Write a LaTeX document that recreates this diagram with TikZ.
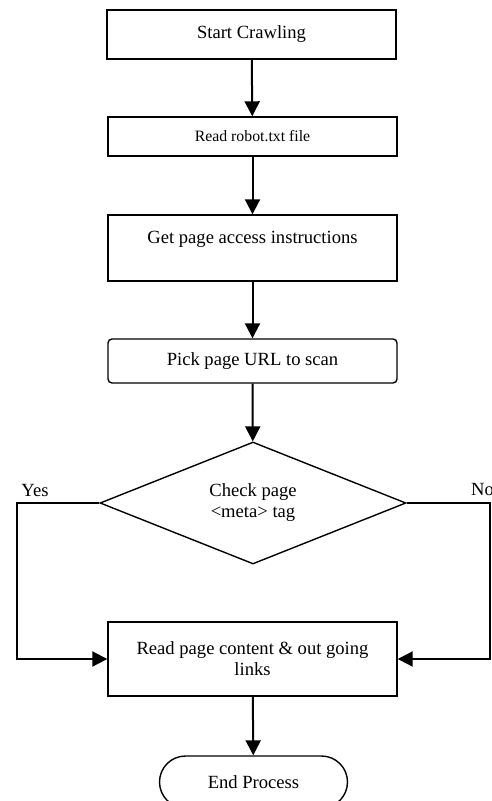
\documentclass[tikz,border=0pt]{standalone}
\usepackage{fontspec}
\setmainfont{Liberation Serif}
\usetikzlibrary{arrows.meta, shapes.geometric, positioning}

\begin{document}
\begin{tikzpicture}[x=1pt, y=-1pt, font=\fontsize{18.6}{21}\selectfont,
	proc/.style={draw, line width=1.4pt, minimum width=289pt, inner sep=0pt,
		align=center, fill=white},
	decis/.style={draw, diamond, line width=1.4pt, minimum width=306pt,
		minimum height=122pt, inner sep=0pt, align=center, aspect=2.5},
	term/.style={draw, line width=1.4pt, rounded corners=26pt,
		minimum width=188pt, minimum height=52pt},
	flow/.style={line width=2pt, -{Triangle[length=15pt, width=15pt]}},
	edge/.style={line width=2pt}]

	\useasboundingbox (0,0) rectangle (491,801);

	\node[proc, minimum height=49pt] (start) at (251.5,34.5) {Start Crawling};
	\node[proc, minimum height=39pt, font=\fontsize{15.8}{18}\selectfont]
		(robot) at (252.5,136.5) {Read robot.txt file};
	\node[proc, minimum height=66pt, text height=13pt, text depth=23pt]
		(access) at (252.5,248) {Get page access instructions};
	\node[proc, minimum height=44pt, rounded corners=4pt]
		(pick) at (252.5,361) {Pick page URL to scan};
	\node[decis] (check) at (253,503) {Check page\\<meta> tag};
	\node[proc, minimum height=74pt] (read) at (252.5,659)
		{Read page content \& out going\\links};
	\node[term] (stop) at (253.5,782) {End Process};

	\draw[flow] (start) -- (robot);
	\draw[flow] (robot) -- (access);
	\draw[flow] (access) -- (pick);
	\draw[flow] (pick) -- (check);
	\draw[flow] (read) -- (stop);

	% ramas del rombo
	\coordinate (yesturn) at (17,503);
	\coordinate (noturn) at (489.5,503);
	\draw[flow] (check.west) -- (yesturn) |- (read.west);
	\draw[flow] (check.east) -- (noturn) |- (read.east);
	\node[anchor=south] (yes) at (35,500) {Yes};
	\node[anchor=south west, inner sep=0pt] (no) at (471,496) {No};
\end{tikzpicture}
\end{document}
